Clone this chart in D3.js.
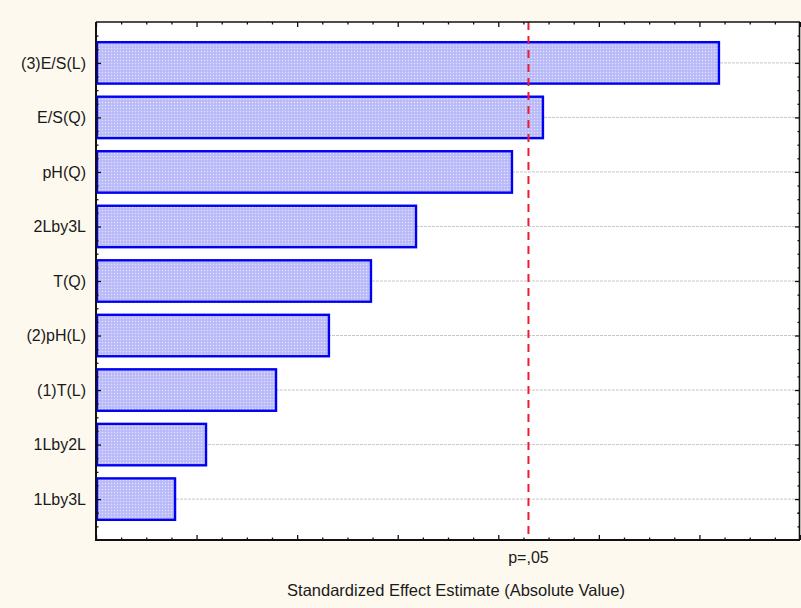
<!DOCTYPE html>
<html>
<head>
<meta charset="utf-8">
<script src="https://cdn.jsdelivr.net/npm/d3@7"></script>
<style>
  html, body { margin: 0; padding: 0; background: #fdf9ee; }
  svg { display: block; }
  text { font-family: "Liberation Sans", Arial, sans-serif; fill: #1a1a1a; }
</style>
</head>
<body>
<svg id="chart" width="801" height="608"></svg>
<script>
// Pareto chart of standardized effects (absolute values)
const effects = ["(3)E/S(L)", "E/S(Q)", "pH(Q)", "2Lby3L", "T(Q)", "(2)pH(L)", "(1)T(L)", "1Lby2L", "1Lby3L"];
const effectValues = [3.097, 2.222, 2.068, 1.591, 1.367, 1.158, 0.895, 0.547, 0.393];
const criticalValue = 2.15;          // significance limit at p = .05
const criticalLabel = "p=,05";
const xAxisTitle = "Standardized Effect Estimate (Absolute Value)";
const xDomain = [0, 3.5];

const W = 801, H = 608;
const plot = { left: 96, right: 800, top: 22, bottom: 540 };

const svg = d3.select("#chart");
svg.append("rect").attr("width", W).attr("height", H).attr("fill", "#fdf9ee");

// checkered fill used for the bars
const defs = svg.append("defs");
const pat = defs.append("pattern").attr("id", "barFill")
  .attr("width", 3).attr("height", 3).attr("patternUnits", "userSpaceOnUse");
pat.append("rect").attr("width", 3).attr("height", 3).attr("fill", "#bfbffa");
pat.append("rect").attr("x", 0).attr("y", 0).attr("width", 1).attr("height", 1).attr("fill", "#e0e0ff");
pat.append("rect").attr("x", 1.5).attr("y", 1.5).attr("width", 1).attr("height", 1).attr("fill", "#aaaaf3");

const x = d3.scaleLinear().domain(xDomain).range([plot.left, plot.right]);
const y = d3.scaleBand().domain(effects)
  .range([plot.top, plot.bottom]).paddingInner(0.24).paddingOuter(0.37);

// plot background
svg.append("rect")
  .attr("x", plot.left).attr("y", plot.top)
  .attr("width", plot.right - plot.left).attr("height", plot.bottom - plot.top)
  .attr("fill", "#ffffff");

// dotted grid lines at each effect
svg.append("g").selectAll("line").data(effects).join("line")
  .attr("x1", plot.left).attr("x2", plot.right)
  .attr("y1", d => y(d) + y.bandwidth() / 2).attr("y2", d => y(d) + y.bandwidth() / 2)
  .attr("stroke", "#c8c8c8").attr("stroke-width", 1).attr("stroke-dasharray", "3,1");

// bars
svg.append("g").selectAll("rect").data(effects).join("rect")
  .attr("x", x(0) + 1)
  .attr("y", d => y(d))
  .attr("width", (d, i) => x(effectValues[i]) - x(0) - 1)
  .attr("height", y.bandwidth())
  .attr("fill", "url(#barFill)")
  .attr("stroke", "#0000f4").attr("stroke-width", 2.4);

// significance line
svg.append("line")
  .attr("x1", x(criticalValue)).attr("x2", x(criticalValue))
  .attr("y1", plot.top).attr("y2", plot.bottom)
  .attr("stroke", "#ee1c2e").attr("stroke-width", 2).attr("stroke-dasharray", "8,6");

// axes: inward ticks on all four sides, no numeric labels
const majorX = d3.range(xDomain[0], xDomain[1] + 1e-9, 0.5);
const minorX = d3.range(xDomain[0], xDomain[1] + 1e-9, 0.125).filter(v => Math.abs(v * 2 - Math.round(v * 2)) > 1e-6);

const bottomMajor = d3.axisBottom(x).tickValues(majorX).tickSizeInner(-5).tickSizeOuter(0).tickFormat("");
const bottomMinor = d3.axisBottom(x).tickValues(minorX).tickSizeInner(-2.5).tickSizeOuter(0).tickFormat("");
const topMajor = d3.axisTop(x).tickValues(majorX).tickSizeInner(-5).tickSizeOuter(0).tickFormat("");
const topMinor = d3.axisTop(x).tickValues(minorX).tickSizeInner(-2.5).tickSizeOuter(0).tickFormat("");

// category ticks: major at band centres, minor at quarter steps
const yTick = d3.scaleLinear().domain([0, 1]).range([0, 1]);
const step = y.step();
const centres = effects.map(d => y(d) + y.bandwidth() / 2);
const minorY = [];
centres.forEach(c => { [-0.5, -0.25, 0.25].forEach(k => minorY.push(c + k * step)); });
minorY.push(centres[centres.length - 1] + 0.25 * step, centres[centres.length - 1] + 0.5 * step);

const leftMajor = d3.axisLeft(yTick).tickValues(centres).tickSizeInner(-5).tickSizeOuter(0).tickFormat("");
const leftMinor = d3.axisLeft(yTick).tickValues(minorY).tickSizeInner(-2.5).tickSizeOuter(0).tickFormat("");
const rightMajor = d3.axisRight(yTick).tickValues(centres).tickSizeInner(-5).tickSizeOuter(0).tickFormat("");
const rightMinor = d3.axisRight(yTick).tickValues(minorY).tickSizeInner(-2.5).tickSizeOuter(0).tickFormat("");

function drawAxis(gen, tx, ty) {
  const g = svg.append("g").attr("transform", `translate(${tx},${ty})`).call(gen);
  g.select(".domain").remove();
  g.selectAll(".tick line").attr("stroke", "#111").attr("stroke-width", 1.3);
  return g;
}
drawAxis(bottomMajor, 0, plot.bottom);
drawAxis(bottomMinor, 0, plot.bottom);
drawAxis(topMajor, 0, plot.top);
drawAxis(topMinor, 0, plot.top);
drawAxis(leftMajor, plot.left, 0);
drawAxis(leftMinor, plot.left, 0);
drawAxis(rightMajor, plot.right, 0);
drawAxis(rightMinor, plot.right, 0);

// frame
svg.append("line").attr("x1", plot.left).attr("x2", plot.right).attr("y1", plot.top).attr("y2", plot.top)
  .attr("stroke", "#111").attr("stroke-width", 1.6);
svg.append("line").attr("x1", plot.right - 0.5).attr("x2", plot.right - 0.5).attr("y1", plot.top).attr("y2", plot.bottom)
  .attr("stroke", "#111").attr("stroke-width", 1.6);
svg.append("line").attr("x1", plot.left).attr("x2", plot.right).attr("y1", plot.bottom).attr("y2", plot.bottom)
  .attr("stroke", "#111").attr("stroke-width", 2);
svg.append("line").attr("x1", plot.left).attr("x2", plot.left).attr("y1", plot.top).attr("y2", plot.bottom + 1)
  .attr("stroke", "#111").attr("stroke-width", 2);

// category labels
svg.append("g").selectAll("text").data(effects).join("text")
  .attr("x", plot.left - 10)
  .attr("y", d => y(d) + y.bandwidth() / 2)
  .attr("dy", "0.36em")
  .attr("text-anchor", "end")
  .attr("font-size", 16)
  .text(d => d);

// label of the significance line
svg.append("text")
  .attr("x", x(criticalValue)).attr("y", 563)
  .attr("text-anchor", "middle").attr("font-size", 16)
  .text(criticalLabel);

// axis title
svg.append("text")
  .attr("x", 456).attr("y", 596)
  .attr("text-anchor", "middle").attr("font-size", 16.5)
  .text(xAxisTitle);
</script>
</body>
</html>
